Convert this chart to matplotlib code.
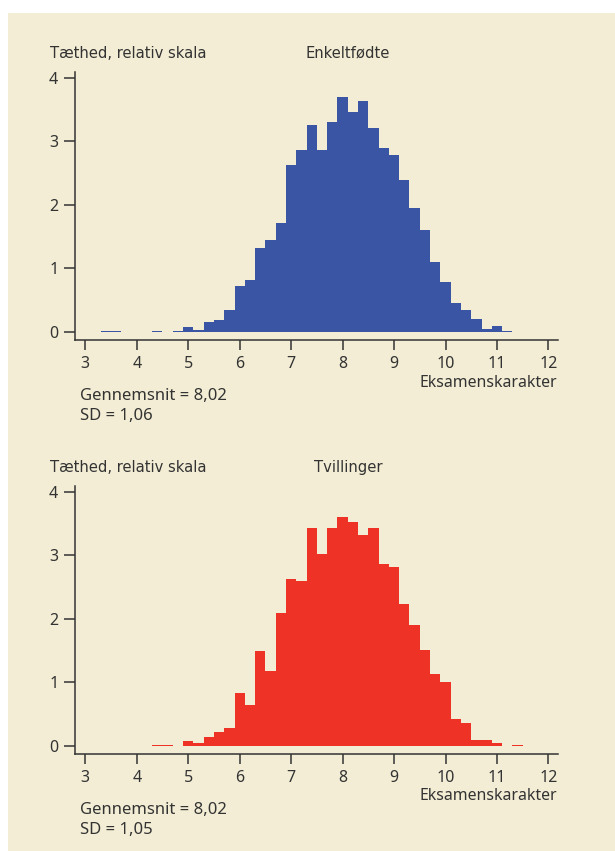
import matplotlib
matplotlib.use('Agg')
from matplotlib import pyplot as plt
from matplotlib.patches import Rectangle

# bin centres (bin width 0.2) and relative density for each group
bins_single = [3.4, 3.6, 3.8, 4.0, 4.2, 4.4, 4.6, 4.8, 5.0, 5.2, 5.4, 5.6, 5.8,
               6.0, 6.2, 6.4, 6.6, 6.8, 7.0, 7.2, 7.4, 7.6, 7.8, 8.0, 8.2, 8.4,
               8.6, 8.8, 9.0, 9.2, 9.4, 9.6, 9.8, 10.0, 10.2, 10.4, 10.6, 10.8,
               11.0, 11.2]
dens_single = [0.02, 0.02, 0, 0, 0, 0.02, 0, 0.02, 0.08, 0.03, 0.15, 0.19, 0.35,
               0.72, 0.82, 1.33, 1.45, 1.71, 2.63, 2.86, 3.26, 2.86, 3.31, 3.70,
               3.47, 3.63, 3.22, 2.89, 2.79, 2.39, 1.95, 1.60, 1.11, 0.79, 0.45,
               0.35, 0.20, 0.05, 0.09, 0.02]

bins_twins = [4.4, 4.6, 4.8, 5.0, 5.2, 5.4, 5.6, 5.8, 6.0, 6.2, 6.4, 6.6, 6.8,
              7.0, 7.2, 7.4, 7.6, 7.8, 8.0, 8.2, 8.4, 8.6, 8.8, 9.0, 9.2, 9.4,
              9.6, 9.8, 10.0, 10.2, 10.4, 10.6, 10.8, 11.0, 11.2, 11.4]
dens_twins = [0.02, 0.02, 0, 0.08, 0.05, 0.14, 0.22, 0.29, 0.84, 0.64, 1.50,
              1.18, 2.10, 2.63, 2.60, 3.43, 3.02, 3.43, 3.60, 3.53, 3.32, 3.44,
              2.87, 2.82, 2.23, 1.90, 1.51, 1.13, 1.00, 0.42, 0.37, 0.09, 0.09,
              0.05, 0, 0.02]

x_ticks = [3, 4, 5, 6, 7, 8, 9, 10, 11, 12]
y_ticks = [0, 1, 2, 3, 4]

BG = '#f2edd4'
INK = '#333333'
W, H = 615, 851

plt.rcParams['font.family'] = ['Noto Sans', 'DejaVu Sans']

fig = plt.figure(figsize=(W / 100, H / 100), dpi=100)
fig.patch.set_facecolor('white')
fig.patches.append(Rectangle((8 / W, 0), 1, 1 - 13 / H, transform=fig.transFigure,
                             facecolor=BG, edgecolor='none', zorder=-10))


def px(x, y):
    # pixel position (from top left) to figure fraction
    return x / W, 1 - y / H


def plot_hist(top, bins, dens, color, title, mean, sd):
    ax = fig.add_axes([75 / W, 1 - (top + 268) / H, 482.7 / W, 268 / H])
    ax.set_facecolor('none')
    ax.bar(bins, dens, width=0.2, color=color, linewidth=0)
    ax.set_xlim(2.8, 12.18)
    ax.set_ylim(-0.126, 4.094)
    ax.set_xticks(x_ticks)
    ax.set_yticks(y_ticks)
    for s in ['top', 'right']:
        ax.spines[s].set_visible(False)
    for s in ['left', 'bottom']:
        ax.spines[s].set_color(INK)
        ax.spines[s].set_linewidth(1.1)
    ax.tick_params(axis='y', direction='out', length=8, width=1.1, color=INK,
                   labelsize=11.5, labelcolor=INK, pad=4)
    ax.tick_params(axis='x', direction='out', length=7.5, width=1.1, color=INK,
                   labelsize=11.5, labelcolor=INK, pad=4)

    fig.text(*px(50, top - 19), 'Tæthed, relativ skala', family='DejaVu Sans',
             stretch='condensed', fontsize=11.8, color=INK, va='center', ha='left')
    fig.text(*px(348, top - 19), title, family='DejaVu Sans',
             stretch='condensed', fontsize=11.8, color=INK, va='center', ha='center')
    fig.text(*px(557, top + 310.5), 'Eksamenskarakter', fontsize=11.4, color=INK,
             va='center', ha='right')
    fig.text(*px(80, top + 324), 'Gennemsnit = ' + mean, fontsize=12, color=INK,
             va='center', ha='left')
    fig.text(*px(80, top + 344), 'SD = ' + sd, fontsize=12, color=INK,
             va='center', ha='left')
    return ax


plot_hist(72, bins_single, dens_single, '#3a55a4', 'Enkeltfødte', '8,02', '1,06')
plot_hist(486, bins_twins, dens_twins, '#ee3326', 'Tvillinger', '8,02', '1,05')

plt.savefig('out.png', dpi=100, facecolor=fig.get_facecolor())
